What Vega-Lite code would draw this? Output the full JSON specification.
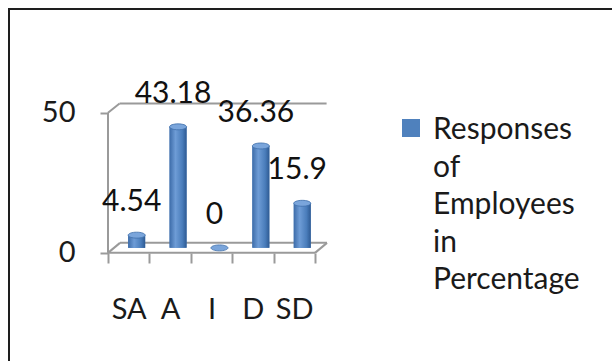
{
  "$schema": "https://vega.github.io/schema/vega-lite/v6.json",
  "width": 606,
  "height": 356,
  "autosize": {"type": "none"},
  "padding": {"left": 9, "top": 9, "right": 0, "bottom": 0},
  "background": "white",
  "config": {
    "view": {"stroke": "#1e1e1e", "strokeWidth": 2},
    "font": "Lato"
  },
  "data": {
    "values": [
      {"rating": "SA", "pct": 4.54},
      {"rating": "A", "pct": 43.18},
      {"rating": "I", "pct": 0},
      {"rating": "D", "pct": 36.36},
      {"rating": "SD", "pct": 15.9}
    ]
  },
  "layer": [
    {
      "data": {"values": [{}]},
      "layer": [
        {
          "mark": {"type": "rule", "color": "#9a9a9a", "strokeWidth": 2},
          "encoding": {
            "x": {"datum": 0, "type": "quantitative", "scale": {"domain": [-2.391, 12.246], "nice": false, "zero": false}, "axis": null},
            "y": {"datum": 0, "type": "quantitative", "scale": {"domain": [-40, 87], "nice": false, "zero": false}},
            "y2": {"datum": 50}
          }
        },
        {
          "mark": {"type": "rule", "color": "#9a9a9a", "strokeWidth": 2},
          "encoding": {
            "x": {"datum": 0, "type": "quantitative", "scale": {"domain": [-2.391, 12.246], "nice": false, "zero": false}, "axis": null},
            "x2": {"datum": 0.28},
            "y": {"datum": 50, "type": "quantitative", "scale": {"domain": [-40, 87], "nice": false, "zero": false}},
            "y2": {"datum": 53.3}
          }
        },
        {
          "mark": {"type": "rule", "color": "#9a9a9a", "strokeWidth": 2},
          "encoding": {
            "x": {"datum": 0.28, "type": "quantitative", "scale": {"domain": [-2.391, 12.246], "nice": false, "zero": false}, "axis": null},
            "x2": {"datum": 5.28},
            "y": {"datum": 53.3, "type": "quantitative", "scale": {"domain": [-40, 87], "nice": false, "zero": false}}
          }
        },
        {
          "mark": {"type": "rule", "color": "#9a9a9a", "strokeWidth": 2},
          "encoding": {
            "x": {"datum": 0, "type": "quantitative", "scale": {"domain": [-2.391, 12.246], "nice": false, "zero": false}, "axis": null},
            "x2": {"datum": 5},
            "y": {"datum": 0, "type": "quantitative", "scale": {"domain": [-40, 87], "nice": false, "zero": false}}
          }
        },
        {
          "mark": {"type": "rule", "color": "#9a9a9a", "strokeWidth": 2},
          "encoding": {
            "x": {"datum": 0.29, "type": "quantitative", "scale": {"domain": [-2.391, 12.246], "nice": false, "zero": false}, "axis": null},
            "x2": {"datum": 5.29},
            "y": {"datum": 3.57, "type": "quantitative", "scale": {"domain": [-40, 87], "nice": false, "zero": false}}
          }
        },
        {
          "mark": {"type": "rule", "color": "#9a9a9a", "strokeWidth": 2},
          "encoding": {
            "x": {"datum": 0, "type": "quantitative", "scale": {"domain": [-2.391, 12.246], "nice": false, "zero": false}, "axis": null},
            "x2": {"datum": 0.29},
            "y": {"datum": 0, "type": "quantitative", "scale": {"domain": [-40, 87], "nice": false, "zero": false}},
            "y2": {"datum": 3.57}
          }
        },
        {
          "mark": {"type": "rule", "color": "#9a9a9a", "strokeWidth": 2},
          "encoding": {
            "x": {"datum": 5, "type": "quantitative", "scale": {"domain": [-2.391, 12.246], "nice": false, "zero": false}, "axis": null},
            "x2": {"datum": 5.29},
            "y": {"datum": 0, "type": "quantitative", "scale": {"domain": [-40, 87], "nice": false, "zero": false}},
            "y2": {"datum": 3.57}
          }
        }
      ]
    },
    {
      "encoding": {
        "x": {
          "field": "rating",
          "type": "nominal",
          "sort": null,
          "scale": {
            "domain": [" ", "  ", "SA", "A", "I", "D", "SD", "   ", "    ", "     ", "      ", "       ", "        ", "         "],
            "paddingInner": 0,
            "paddingOuter": 0.32,
            "align": 0.611
          },
          "axis": {
            "title": null,
            "values": ["SA", "A", "I", "D", "SD"],
            "labelAngle": 0,
            "orient": "bottom",
            "offset": -112,
            "domain": false,
            "tickBand": "extent",
            "tickSize": 10,
            "tickColor": "#9a9a9a",
            "tickWidth": 2,
            "labelFont": "Lato",
            "labelFontSize": 29,
            "labelColor": "#1a1a1a",
            "labelPadding": 32
          }
        },
        "y": {
          "field": "pct",
          "type": "quantitative",
          "scale": {"domain": [-40, 87], "nice": false, "zero": false},
          "axis": {
            "title": null,
            "values": [0, 50],
            "offset": -99,
            "domain": false,
            "grid": false,
            "tickSize": 8,
            "tickColor": "#9a9a9a",
            "tickWidth": 2,
            "labelFont": "Lato",
            "labelFontSize": 29,
            "labelColor": "#1a1a1a",
            "labelPadding": 25
          }
        }
      },
      "layer": [
        {
          "mark": {"type": "bar", "width": 17, "xOffset": 8, "yOffset": -5, "y2Offset": -5},
          "encoding": {
            "y2": {"datum": 0},
            "color": {
              "datum": "Responses of Employees in Percentage",
              "scale": {"range": ["#4F81BD"]},
              "legend": {
                "orient": "none",
                "legendX": 387,
                "legendY": 104,
                "title": null,
                "padding": 0,
                "symbolType": "square",
                "symbolSize": 324,
                "symbolStrokeWidth": 0,
                "labelFont": "Lato",
                "labelFontSize": 30,
                "labelColor": "#1a1a1a",
                "labelOffset": 7,
                "labelLimit": 400,
                "labelBaseline": "top",
                "labelExpr": "split(datum.label, ' ')",
                "encoding": {
                  "labels": {
                    "lineHeight": {"value": 37.5},
                    "dy": {"value": -13}
                  }
                }
              }
            }
          }
        },
        {
          "mark": {
            "type": "bar",
            "width": 17,
            "xOffset": 8,
            "yOffset": -5,
            "y2Offset": -5,
            "fill": {
              "gradient": "linear",
              "x1": 0, "y1": 0, "x2": 1, "y2": 0,
              "stops": [
                {"offset": 0, "color": "#3D6CA9"},
                {"offset": 0.35, "color": "#6E9CD6"},
                {"offset": 0.75, "color": "#4A7DBB"},
                {"offset": 1, "color": "#2E5A93"}
              ]
            }
          },
          "encoding": {"y2": {"datum": 0}}
        },
        {
          "mark": {
            "type": "point",
            "shape": "M-1,0A1,0.35,0,1,0,1,0A1,0.35,0,1,0,-1,0Z",
            "size": 289,
            "filled": true,
            "opacity": 1,
            "xOffset": 8,
            "yOffset": -5,
            "fill": "#7AA5DB",
            "stroke": "#3F6EAA",
            "strokeWidth": 0.8
          }
        },
        {
          "mark": {"type": "text", "font": "Lato", "fontSize": 30, "dx": 3, "dy": -38, "baseline": "middle", "color": "#111111"},
          "encoding": {"text": {"field": "pct", "type": "quantitative"}}
        }
      ]
    }
  ],
  "resolve": {"scale": {"x": "independent"}}
}
